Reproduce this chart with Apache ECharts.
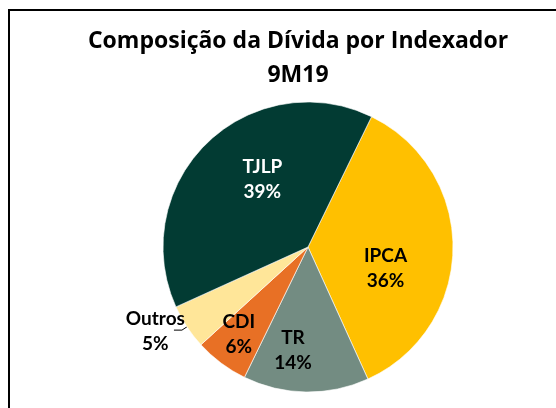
<!DOCTYPE html>
<html lang="pt">
<head>
    <meta charset="UTF-8">
    <title>Composição da Dívida por Indexador</title>
    <style>
        html, body {
            margin: 0;
            padding: 0;
            background: white;
        }

        #fig {
            position: absolute;
            left: 0;
            top: 0;
            height: 408px;
            width: 556px;
        }

        /* moldura do gráfico (só topo e esquerda aparecem no recorte) */
        #frame {
            position: absolute;
            left: 8px;
            top: 9px;
            width: 560px;
            height: 420px;
            border-top: 2px solid #000;
            border-left: 2px solid #000;
            pointer-events: none;
        }
    </style>
    <script src="https://cdn.jsdelivr.net/npm/echarts@6/dist/echarts.min.js"></script>
</head>
<body>
<div id="fig"></div>
<div id="frame"></div>
<script>
    // dados
    const indexadores = ['IPCA', 'TR', 'CDI', 'Outros', 'TJLP'];
    const percentuais = [36, 14, 6, 5, 39];
    const cores = ['#FFC000', '#738C82', '#E87025', '#FFE699', '#023B33'];

    const fonte = 'Lato, "Open Sans", sans-serif';

    // ajustes de rótulo por fatia (parecido com o Excel)
    const rotulos = {
        'IPCA':   {color: '#000', offset: [2, 20]},
        'TR':     {color: '#000', offset: [-14, 28]},
        'CDI':    {color: '#000', offset: [-24, 27]},
        'TJLP':   {color: '#fff', offset: [7, -13]}
    };

    let fig = echarts.init(document.getElementById('fig'), null, {renderer: 'canvas'});

    let dados = [];
    for (let i = 0; i < indexadores.length; i++) {
        let nome = indexadores[i];
        let item = {
            name: nome,
            value: percentuais[i],
            itemStyle: {color: cores[i]}
        };
        if (rotulos[nome]) {
            item.label = {
                position: 'inside',
                color: rotulos[nome].color,
                offset: rotulos[nome].offset
            };
            item.labelLine = {show: false};
        } else {
            // Outros fica para fora com linha de chamada, texto centralizado
            item.label = {
                position: 'outside',
                color: '#000',
                offset: [16, 1],
                formatter: '{m|{b}}\n{m|{c}%}',
                rich: {
                    m: {
                        align: 'center',
                        fontFamily: fonte,
                        fontSize: 19,
                        fontWeight: 'bold',
                        lineHeight: 25,
                        color: '#000'
                    }
                }
            };
            item.labelLine = {
                show: true,
                length: 6,
                length2: 8,
                lineStyle: {color: '#000', width: 1}
            };
        }
        dados.push(item);
    }

    let option = {
        animation: false,
        title: {
            text: 'Composição da Dívida por Indexador\n9M19',
            left: 293,
            top: 19,
            textAlign: 'center',
            textStyle: {
                fontFamily: '"Open Sans", Lato, sans-serif',
                fontSize: 23,
                fontWeight: 'bold',
                color: '#000',
                lineHeight: 34
            }
        },
        series: [{
            type: 'pie',
            center: [308, 247],
            radius: [0, 145],
            startAngle: 64,
            clockwise: true,
            avoidLabelOverlap: false,
            itemStyle: {
                borderColor: '#fff',
                borderWidth: 0.6
            },
            label: {
                show: true,
                fontFamily: fonte,
                fontSize: 19,
                fontWeight: 'bold',
                lineHeight: 25,
                formatter: '{b}\n{c}%'
            },
            data: dados
        }]
    };

    fig.setOption(option);
</script>
</body>
</html>
